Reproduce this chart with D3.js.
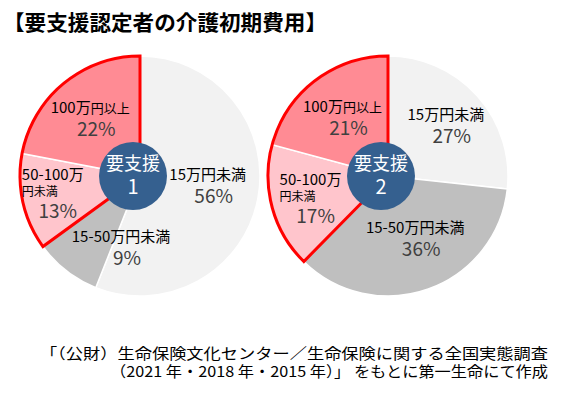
<!DOCTYPE html>
<html>
<head>
<meta charset="utf-8">
<script src="https://cdn.jsdelivr.net/npm/d3@7"></script>
<style>
  body { margin: 0; background: #fff; }
  text { font-family: "Noto Sans CJK JP", "Noto Sans", sans-serif; }
</style>
</head>
<body>
<div id="container"></div>
<script>
var groupNames = ['要支援\n1', '要支援\n2'];
var categories = ['15万円未満', '15-50万円未満', '50-100万円未満', '100万円以上'];
var categoryLines = [['15万円未満'], ['15-50万円未満'], ['50-100万', '円未満'], ['100万', '円以上']];
var support1 = [56, 9, 13, 22];
var support2 = [27, 36, 17, 21];
var sliceColors = ['#F2F2F2', '#BFBFBF', '#FFC5CC', '#FF8B94'];
var highlighted = [2, 3];

var width = 574, height = 394;
var radius = 120;
var labelRadius = 75;

// per chart label nudges (dx, dy) from centroid
var nudges = [
    [[-6, -5], [27, 12], [-9, 0], [-2, 0]],
    [[2, -1], [2, -9], [0, 1], [0, 1]]
];

var charts = [
    { name: groupNames[0], values: support1, cx: 140, cy: 176, nudge: nudges[0] },
    { name: groupNames[1], values: support2, cx: 388, cy: 176, nudge: nudges[1] }
];

var svg = d3.select('#container').append('svg')
    .attr('width', width)
    .attr('height', height);

svg.append('text')
    .attr('x', 3)
    .attr('y', 30)
    .attr('font-size', 21)
    .attr('font-weight', 700)
    .attr('textLength', 324)
    .attr('lengthAdjust', 'spacingAndGlyphs')
    .attr('fill', '#000')
    .text('【要支援認定者の介護初期費用】');

var pie = d3.pie().sort(null).value(function (d) { return d; });
var arc = d3.arc().innerRadius(0).outerRadius(radius);
var labelArc = d3.arc().innerRadius(labelRadius).outerRadius(labelRadius);

charts.forEach(function (chart) {
    var g = svg.append('g').attr('transform', 'translate(' + chart.cx + ',' + chart.cy + ')');
    var arcs = pie(chart.values);

    g.selectAll('path.slice')
        .data(arcs)
        .enter().append('path')
        .attr('class', 'slice')
        .attr('d', arc)
        .attr('fill', function (d, i) { return sliceColors[i]; })
        .attr('stroke', '#fff')
        .attr('stroke-width', 1.5);

    // red outline around the expensive group
    var first = arcs[highlighted[0]], last = arcs[highlighted[highlighted.length - 1]];
    g.append('path')
        .attr('d', arc({ startAngle: first.startAngle, endAngle: last.endAngle }))
        .attr('fill', 'none')
        .attr('stroke', '#FF0000')
        .attr('stroke-width', 3)
        .attr('stroke-linejoin', 'miter');

    // labels
    arcs.forEach(function (d, i) {
        var c = labelArc.centroid(d);
        var x = c[0] + chart.nudge[i][0];
        var y = c[1] + chart.nudge[i][1];
        var lines = categoryLines[i];
        var pct = chart.values[i] + '%';
        if (i === 2) {
            g.append('text')
                .attr('x', x - 36).attr('y', y - 12)
                .attr('font-size', 15).attr('fill', '#000')
                .text(lines[0]);
            g.append('text')
                .attr('x', x - 36).attr('y', y + 4)
                .attr('font-size', 12).attr('fill', '#000')
                .text(lines[1]);
            g.append('text')
                .attr('x', x).attr('y', y + 26)
                .attr('text-anchor', 'middle')
                .attr('font-size', 19).attr('fill', '#404040')
                .text(pct);
        } else {
            var cat = g.append('text')
                .attr('x', x).attr('y', y - 5)
                .attr('text-anchor', 'middle')
                .attr('fill', '#000');
            if (i === 3) {
                cat.append('tspan').attr('font-size', 15).text(lines[0]);
                cat.append('tspan').attr('font-size', 13).text(lines[1]);
            } else {
                cat.attr('font-size', 15).text(lines[0]);
            }
            g.append('text')
                .attr('x', x + 6).attr('y', y + 18)
                .attr('text-anchor', 'middle')
                .attr('font-size', 19).attr('fill', '#404040')
                .text(pct);
        }
    });

    // center badge
    var badge = g.append('g').attr('transform', 'translate(-7,0)');
    badge.append('circle')
        .attr('r', 34)
        .attr('fill', '#35608F');
    var parts = chart.name.split('\n');
    badge.append('text')
        .attr('y', -6)
        .attr('text-anchor', 'middle')
        .attr('font-size', 18).attr('fill', '#fff')
        .text(parts[0]);
    badge.append('text')
        .attr('y', 18)
        .attr('text-anchor', 'middle')
        .attr('font-size', 20).attr('fill', '#fff')
        .text(parts[1]);
});

var source = [
    { text: '「（公財）生命保険文化センター／生命保険に関する全国実態調査', len: 508 },
    { text: '（2021 年・2018 年・2015 年）」 をもとに第一生命にて作成', len: 438 }
];
svg.selectAll('text.source')
    .data(source)
    .enter().append('text')
    .attr('class', 'source')
    .attr('x', 548)
    .attr('y', function (d, i) { return 359 + i * 18; })
    .attr('text-anchor', 'end')
    .attr('font-size', 15)
    .attr('textLength', function (d) { return d.len; })
    .attr('lengthAdjust', 'spacingAndGlyphs')
    .attr('fill', '#000')
    .text(function (d) { return d.text; });
</script>
</body>
</html>
